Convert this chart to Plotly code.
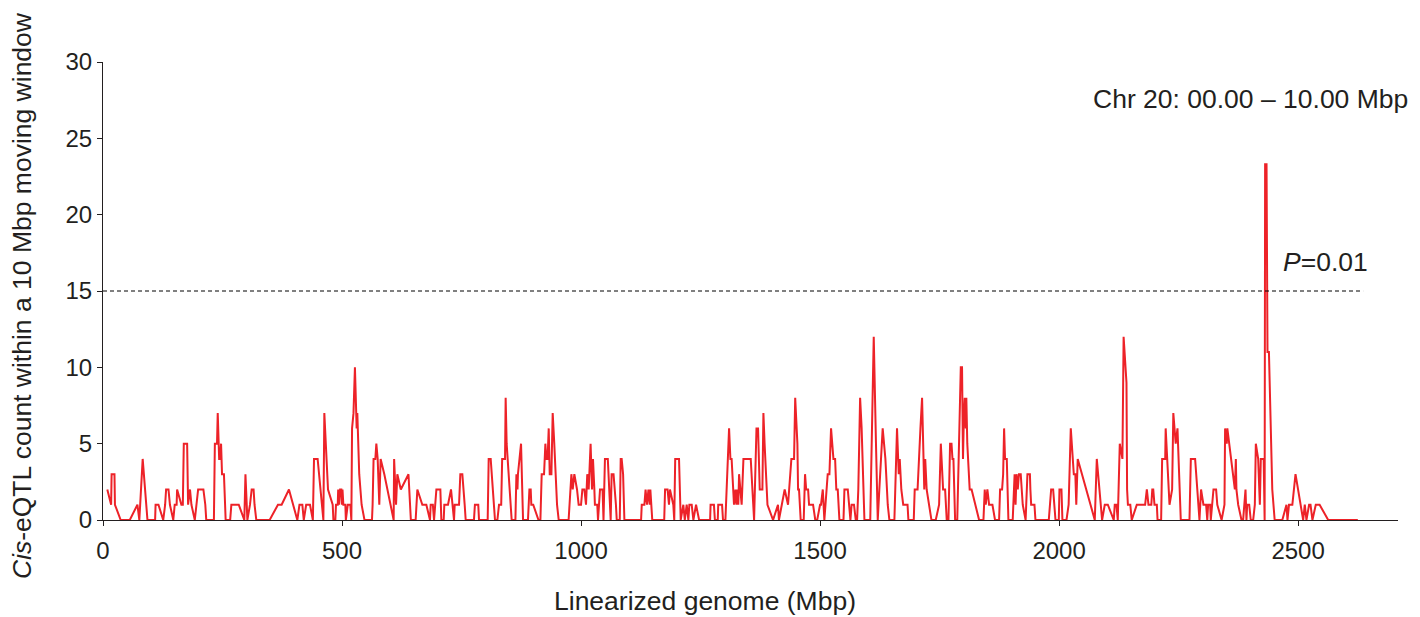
import plotly.graph_objects as go

# Linearized genome position (Mbp) and cis-eQTL count in a 10 Mbp moving window
pos = [
    9, 17, 18, 24, 25, 37, 56, 72, 76, 83, 93, 109, 110, 116, 126, 130, 132, 137, 140, 147, 150, 154, 155, 164, 167, 169, 176, 178, 182, 185, 192, 196, 199, 206,
    210, 214, 216, 232, 234, 238.5, 240, 243, 245, 247, 249, 253, 254.5, 256.6, 266, 268.5, 284, 295.6, 298, 302, 307.5, 311, 315, 317, 320.7, 348.6, 366, 373.7, 389, 406.5, 411, 417, 420,
    425, 433, 439, 441.4, 449, 461, 463, 470.7, 480.5, 482, 486, 487.4, 491, 492, 494, 496, 498.6, 500, 501, 502.8, 507, 508, 512, 517.4, 519.5, 521, 524, 527, 529, 530.6, 532, 536, 541, 547, 562.7, 564, 566, 569.7, 571.8, 574.6, 578, 580.8, 588.5, 608, 609, 613, 615.7, 623, 639,
    644, 654, 657.6, 668, 676.4, 684, 685.5, 690, 692.5, 697.4, 705.7, 707.8, 712.7, 714, 721.7, 728, 734.3, 735.7, 744.8, 747.5, 751.7, 756.6, 758.7, 776, 778, 785, 786.6, 804.7, 806.8, 811, 820, 825, 828.4, 833, 835, 841, 842.3, 844.4, 854.9,
    862.7, 864.8, 867, 868, 874.5, 876.6, 878.7, 889, 892, 894.7, 896, 900, 911, 915, 917.7, 922.6, 925.4, 927.5, 930, 932.4, 934.5, 938, 940.7, 944, 949.8, 953.3, 974, 979.8, 982.6, 986, 991.6, 995, 1000, 1002.8, 1007, 1010.4, 1013, 1016, 1020, 1023, 1025, 1027.9, 1029, 1034, 1035.5, 1039.7, 1045, 1047, 1050, 1056, 1062, 1064, 1068, 1073,
    1074.7, 1081, 1083, 1085, 1088, 1090.7, 1125.6, 1127, 1132.5, 1135, 1138, 1141, 1143.7, 1145, 1149, 1174, 1175.8, 1181, 1184, 1186, 1193, 1195, 1197, 1205, 1208.5, 1214, 1217, 1221, 1224.5, 1226.6, 1231.5, 1235, 1240.6, 1247, 1270, 1271, 1278, 1280,
    1286, 1287, 1295, 1297, 1302, 1309.7, 1312.5, 1315, 1320, 1323, 1325, 1327, 1329, 1330.6, 1332.7, 1336, 1339.7, 1355, 1362, 1367, 1370.3, 1373.8, 1379.4, 1381.5, 1384, 1387.8, 1390, 1401.7, 1412, 1414, 1426, 1433, 1440, 1445.6, 1448, 1452.6, 1454, 1456, 1459.5, 1465.8, 1468.6, 1471, 1475, 1477, 1485.4, 1490, 1494, 1500,
    1502, 1505.7, 1509, 1516, 1519.6, 1523, 1526, 1528, 1531.5, 1534, 1537, 1540.5, 1549, 1551, 1558, 1563.5, 1566, 1571, 1574.7, 1577.5, 1580, 1583.8, 1587, 1592.8, 1605, 1608, 1612.3, 1617, 1620.7, 1624, 1626, 1631, 1636.7, 1641.6, 1645, 1655.5, 1661, 1664.6, 1666.7, 1670, 1674, 1683, 1684.8, 1696, 1698, 1704, 1710, 1713.4, 1718,
    1720, 1723, 1728, 1733, 1742, 1749, 1752.6, 1757.4, 1761.6, 1765, 1768.6, 1772, 1775, 1777, 1779, 1782.5, 1787, 1794.4, 1797, 1799, 1801, 1802.7, 1804.8, 1806, 1808, 1813, 1817, 1832.7, 1841.8, 1844.5, 1846.6, 1850, 1853.6, 1860.6, 1866, 1874.5, 1876.6, 1880.8, 1883, 1885, 1887, 1890.6, 1894, 1903, 1907, 1909, 1911, 1913.6, 1916, 1919.8, 1924, 1930, 1933.8,
    1939, 1940, 1941.6, 1948.5, 1950.6, 1978.5, 1983.4, 1987.6, 1992.5, 1999.4, 2000.8, 2005, 2007, 2015.5, 2020, 2024.5, 2030.8, 2034, 2036, 2039, 2074.7, 2078.9, 2090, 2095.6, 2102, 2114.4, 2116.5, 2120, 2122.8, 2127, 2132.5, 2135, 2141, 2142.3, 2144, 2149,
    2152, 2162.6, 2180, 2183.6, 2187, 2193, 2195, 2197, 2199.6, 2204.5, 2206, 2213.5, 2215.6, 2222, 2223, 2231, 2236.5, 2239, 2243, 2244, 2247.7, 2254.6, 2272.8, 2274, 2275.6, 2284.6, 2286.7, 2293.7, 2297, 2302, 2307.6, 2310, 2311.8, 2316, 2317.4, 2323, 2328.5, 2331, 2340, 2346, 2347.3, 2350.8, 2352, 2356, 2363.4,
    2367.7, 2369.8, 2371, 2374.7, 2381.6, 2385, 2390, 2392, 2393.5, 2397.7, 2401, 2406, 2409.5, 2411.6, 2416.5, 2420, 2422, 2428, 2430, 2431, 2434, 2436, 2439, 2446, 2451, 2467, 2475.7, 2477.8, 2481, 2488, 2494.6, 2510.6, 2514, 2517.5, 2523, 2526, 2530, 2537, 2545, 2563, 2625,
]
count = [
    2, 1, 3, 3, 1, 0, 0, 1, 0, 4, 0, 0, 1, 1, 0, 1, 2, 2, 1, 0, 1, 1, 2, 1, 1, 5, 5, 1, 2, 1, 0, 1, 2, 2,
    2, 1, 0, 0, 5, 5, 7, 4, 4, 5, 3, 3, 1, 0, 0, 1, 1, 0, 3, 0, 1, 2, 2, 1, 0, 0, 1, 1, 2, 0, 1, 1, 0,
    1, 1, 0, 4, 4, 0, 7, 2, 1, 0, 0, 1, 1, 2, 1, 2, 2, 1, 2, 1, 1, 0, 1, 1, 0, 6, 7, 10, 7, 6, 7, 3, 1, 0, 0, 1, 4, 4, 5, 4, 1, 4, 3, 0, 4, 1, 3, 2, 3,
    0, 0, 2, 1, 1, 0, 1, 1, 0, 2, 2, 0, 0, 1, 1, 2, 0, 1, 1, 3, 3, 1, 0, 0, 1, 1, 0, 0, 4, 4, 0, 0, 1, 1, 4, 4, 8, 5, 0,
    0, 3, 2, 3, 5, 3, 0, 0, 2, 2, 1, 1, 0, 0, 3, 3, 5, 4, 4, 6, 3, 3, 7, 5, 1, 0, 0, 3, 2, 3, 2, 1, 1, 2, 2, 1, 3, 2, 5, 2, 4, 2, 1, 1, 0, 2, 2, 0, 4, 4, 0, 3, 3, 1,
    0, 0, 4, 4, 3, 0, 0, 1, 1, 2, 1, 2, 1, 2, 0, 0, 2, 2, 1, 2, 1, 0, 4, 4, 0, 1, 0, 1, 0, 1, 1, 0, 1, 0, 0, 1, 1, 0,
    0, 1, 1, 0, 0, 6, 4, 4, 1, 2, 1, 2, 1, 3, 2, 1, 4, 4, 0, 6, 6, 2, 2, 7, 5, 2, 1, 0, 1, 0, 2, 1, 4, 4, 8, 5, 2, 2, 0, 0, 3, 2, 2, 1, 1, 0, 0, 1,
    1, 2, 0, 3, 3, 6, 5, 4, 4, 2, 2, 0, 0, 2, 2, 0, 1, 1, 0, 0, 2, 8, 6, 0, 0, 6, 12, 5, 0, 2, 3, 6, 4, 1, 0, 0, 6, 3, 4, 2, 1, 1, 0, 0, 2, 2, 6, 8, 2,
    4, 2, 1, 0, 0, 1, 5, 2, 2, 0, 0, 5, 5, 4, 4, 0, 0, 10, 10, 4, 7, 8, 6, 8, 5, 2, 2, 0, 0, 2, 1, 2, 1, 1, 0, 0, 2, 2, 3, 6, 4, 4, 0, 0, 3, 1, 3, 2, 3, 3, 1, 0, 3,
    3, 2, 1, 1, 0, 0, 2, 2, 0, 0, 2, 2, 0, 0, 1, 6, 3, 3, 1, 4, 0, 4, 0, 1, 1, 0, 1, 1, 0, 5, 4, 12, 9, 2, 1, 1,
    0, 1, 1, 2, 1, 1, 2, 2, 1, 1, 0, 0, 4, 4, 6, 1, 2, 7, 5, 5, 6, 0, 0, 2, 4, 4, 3, 0, 2, 1, 1, 0, 1, 1, 0, 2, 2, 1, 0, 1, 6, 5, 6, 5, 3,
    2, 4, 2, 1, 0, 0, 2, 0, 1, 1, 0, 0, 1, 5, 4, 1, 4, 4, 0, 23.3, 23.3, 11, 11, 2, 0, 0, 1, 0, 1, 1, 3, 0, 1, 0, 1, 1, 0, 1, 1, 0, 0,
]

threshold = 15
threshold_label = "<i>P</i>=0.01"
region_label = "Chr 20: 00.00 \u2013 10.00 Mbp"
x_title = "Linearized genome (Mbp)"
y_title = "<i>Cis</i>-eQTL count within a 10 Mbp moving window"
x_ticks = [0, 500, 1000, 1500, 2000, 2500]
y_ticks = [0, 5, 10, 15, 20, 25, 30]

FONT = "Liberation Sans, Arial, sans-serif"
RED = "#ED2228"
TXT = "#231F20"

fig = go.Figure()
fig.add_trace(go.Scatter(
    x=pos, y=count, mode="lines",
    line=dict(color=RED, width=2),
    hoverinfo="x+y", showlegend=False,
))
fig.add_trace(go.Scatter(
    x=[0, 2636], y=[threshold, threshold], mode="lines",
    line=dict(color="black", width=1, dash="4px,3px"),
    hoverinfo="skip", showlegend=False,
))

fig.add_annotation(x=1, xref="paper", y=27.6, yref="y", text=region_label,
                   showarrow=False, xanchor="right", yanchor="middle",
                   xshift=12, font=dict(size=26.5, color=TXT, family=FONT))
fig.add_annotation(x=2558, y=16.9, text=threshold_label,
                   showarrow=False, xanchor="center", yanchor="middle",
                   font=dict(size=26.5, color=TXT, family=FONT))
# axis titles placed as annotations (x title is offset left of the axis centre in the reference)
fig.add_annotation(x=0.465, xref="paper", y=-0.177, yref="paper", text=x_title,
                   showarrow=False, xanchor="center", yanchor="middle",
                   font=dict(size=26.5, color=TXT, family=FONT))
fig.add_annotation(x=-0.0625, xref="paper", y=0.489, yref="paper", text=y_title,
                   textangle=-90, showarrow=False, xanchor="center", yanchor="middle",
                   font=dict(size=26.5, color=TXT, family=FONT))

fig.update_layout(
    width=1420, height=617,
    margin=dict(l=103, r=22, t=62, b=97),
    paper_bgcolor="white", plot_bgcolor="white",
    font=dict(family=FONT, size=24, color=TXT),
    xaxis=dict(
        range=[0, 2709], tickvals=x_ticks, ticks="outside", ticklen=5,
        tickcolor=TXT, showline=True, linecolor=TXT, linewidth=1,
        showgrid=False, zeroline=False, tickfont=dict(size=24),
        ticklabelstandoff=4, automargin=False,
    ),
    yaxis=dict(
        range=[0, 30], tickvals=y_ticks, ticks="outside", ticklen=5,
        tickcolor=TXT, showline=True, linecolor=TXT, linewidth=1,
        showgrid=False, zeroline=False, tickfont=dict(size=24),
        automargin=False,
    ),
)

fig.write_html("out.html")
